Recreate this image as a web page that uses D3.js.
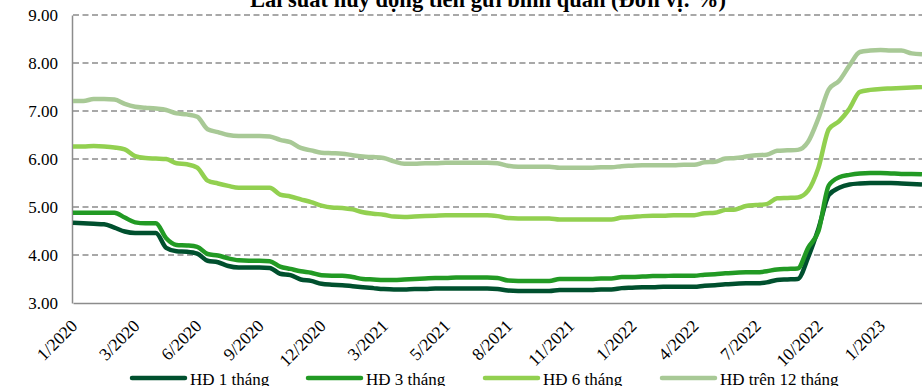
<!DOCTYPE html>
<html>
<head>
<meta charset="utf-8">
<script src="https://cdn.jsdelivr.net/npm/d3@7/dist/d3.min.js"></script>
<style>
  html, body { margin: 0; padding: 0; background: #ffffff; }
  svg { display: block; }
  text { font-family: "Liberation Serif", "Times New Roman", serif; fill: #000; }
</style>
</head>
<body>
<svg id="chart" width="922" height="386"></svg>
<script>
// Weekly average deposit rates, 1/2020 – 2/2023 (%)
const tickLabels = ["1/2020", "3/2020", "6/2020", "9/2020", "12/2020", "3/2021", "5/2021",
  "8/2021", "11/2021", "1/2022", "4/2022", "7/2022", "10/2022", "1/2023"];
const pointsPerLabel = 6;

const rate1m = [
  4.67, 4.66, 4.65, 4.64, 4.57, 4.49, 4.46, 4.46, 4.46, 4.15,
  4.08, 4.07, 4.03, 3.88, 3.85, 3.77, 3.74, 3.74, 3.74, 3.73,
  3.61, 3.58, 3.49, 3.46, 3.40, 3.38, 3.37, 3.35, 3.33, 3.31,
  3.29, 3.28, 3.28, 3.29, 3.29, 3.30, 3.30, 3.30, 3.30, 3.30,
  3.30, 3.29, 3.26, 3.25, 3.25, 3.25, 3.25, 3.27, 3.27, 3.27,
  3.27, 3.28, 3.28, 3.31, 3.32, 3.33, 3.33, 3.34, 3.34, 3.34,
  3.34, 3.36, 3.37, 3.39, 3.40, 3.41, 3.41, 3.43, 3.48, 3.49,
  3.50, 3.95, 4.55, 5.25, 5.40, 5.47, 5.49, 5.50, 5.50, 5.50,
  5.49, 5.48, 5.47
];
const rate3m = [
  4.88, 4.88, 4.88, 4.88, 4.88, 4.78, 4.68, 4.66, 4.66, 4.35,
  4.21, 4.20, 4.17, 4.02, 3.99, 3.93, 3.89, 3.88, 3.88, 3.87,
  3.76, 3.71, 3.66, 3.63, 3.58, 3.57, 3.57, 3.54, 3.50, 3.49,
  3.48, 3.48, 3.49, 3.50, 3.51, 3.52, 3.52, 3.53, 3.53, 3.53,
  3.53, 3.52, 3.47, 3.46, 3.46, 3.46, 3.46, 3.50, 3.50, 3.50,
  3.50, 3.51, 3.51, 3.54, 3.54, 3.55, 3.56, 3.56, 3.57, 3.57,
  3.57, 3.59, 3.60, 3.62, 3.63, 3.64, 3.64, 3.66, 3.70, 3.71,
  3.72, 4.15, 4.50, 5.45, 5.62, 5.67, 5.70, 5.71, 5.71, 5.70,
  5.69, 5.69, 5.68
];
const rate6m = [
  6.26, 6.26, 6.27, 6.26, 6.24, 6.20, 6.06, 6.02, 6.01, 6.00,
  5.91, 5.89, 5.82, 5.55, 5.49, 5.44, 5.40, 5.40, 5.40, 5.40,
  5.26, 5.22, 5.16, 5.10, 5.03, 4.99, 4.98, 4.95, 4.89, 4.86,
  4.84, 4.80, 4.79, 4.80, 4.81, 4.82, 4.83, 4.83, 4.83, 4.83,
  4.83, 4.81, 4.77, 4.76, 4.76, 4.76, 4.76, 4.74, 4.74, 4.74,
  4.74, 4.74, 4.74, 4.78, 4.79, 4.81, 4.82, 4.82, 4.83, 4.83,
  4.83, 4.87, 4.88, 4.94, 4.95, 5.02, 5.04, 5.06, 5.18, 5.19,
  5.20, 5.34, 5.82, 6.62, 6.79, 7.05, 7.40, 7.44, 7.46, 7.47,
  7.48, 7.49, 7.50
];
const rate12m = [
  7.21, 7.21, 7.25, 7.25, 7.24, 7.15, 7.09, 7.07, 7.05, 7.02,
  6.95, 6.93, 6.88, 6.62, 6.56, 6.50, 6.48, 6.48, 6.48, 6.47,
  6.40, 6.35, 6.23, 6.18, 6.13, 6.12, 6.11, 6.08, 6.05, 6.04,
  6.02, 5.95, 5.90, 5.90, 5.91, 5.91, 5.92, 5.92, 5.92, 5.92,
  5.92, 5.91, 5.86, 5.84, 5.84, 5.84, 5.84, 5.82, 5.82, 5.82,
  5.82, 5.83, 5.83, 5.85, 5.86, 5.87, 5.87, 5.87, 5.87, 5.88,
  5.88, 5.93, 5.94, 6.01, 6.02, 6.05, 6.08, 6.09, 6.17, 6.18,
  6.19, 6.36, 6.85, 7.45, 7.63, 7.95, 8.23, 8.26, 8.27, 8.26,
  8.26, 8.20, 8.18
];

const seriesNames = ["HĐ 1 tháng", "HĐ 3 tháng", "HĐ 6 tháng", "HĐ trên 12 tháng"];
const seriesColors = ["#00502e", "#229a24", "#92d050", "#a8c996"];
const yTicks = [3, 4, 5, 6, 7, 8, 9];

const series = [rate1m, rate3m, rate6m, rate12m].map((values, k) => ({
  name: seriesNames[k], color: seriesColors[k], values
}));

const svg = d3.select("#chart");
const plot = { left: 73, right: 922, top: 15, bottom: 303 };

const x = d3.scaleLinear().domain([0, rate1m.length - 1]).range([plot.left, plot.right]);
const y = d3.scaleLinear().domain([3, 9]).range([plot.bottom, plot.top]);

// Title
svg.append("text")
  .attr("x", 488).attr("y", 7)
  .attr("text-anchor", "middle")
  .style("font-size", "22.5px").style("font-weight", "bold")
  .text("Lãi suất huy động tiền gửi bình quân (Đơn vị: %)");

// Dashed horizontal gridlines
svg.append("g")
  .selectAll("line")
  .data(yTicks.filter(v => v > 3))
  .join("line")
  .attr("x1", plot.left).attr("x2", plot.right)
  .attr("y1", d => y(d)).attr("y2", d => y(d))
  .attr("stroke", "#8c8c8c").attr("stroke-width", 1.5)
  .attr("stroke-dasharray", "6,3.5");

// Y axis
const yAxis = svg.append("g")
  .attr("transform", `translate(${plot.left - 1},0)`)
  .call(d3.axisLeft(y).tickValues(yTicks).tickFormat(d3.format(".2f")).tickSize(0).tickPadding(14));
yAxis.select(".domain").attr("stroke", "#8c8c8c").attr("stroke-width", 1.5);
yAxis.selectAll("text").style("font-size", "17px").attr("fill", "#000");

// X axis line and rotated category labels
const xAxis = svg.append("g")
  .attr("transform", `translate(0,${plot.bottom})`)
  .call(d3.axisBottom(x)
    .tickValues(tickLabels.map((_, i) => i * pointsPerLabel))
    .tickFormat((d, i) => tickLabels[i])
    .tickSize(0));
xAxis.select(".domain").attr("stroke", "#8c8c8c").attr("stroke-width", 1.5);
xAxis.selectAll("text")
  .style("font-size", "17.5px").attr("fill", "#000")
  .attr("text-anchor", "end")
  .attr("y", 0).attr("dy", 0)
  .attr("transform", "translate(5,24) rotate(-45)");

// Series lines
const line = d3.line()
  .x((d, i) => x(i))
  .y(d => y(d))
  .curve(d3.curveMonotoneX);

svg.append("g")
  .selectAll("path")
  .data(series)
  .join("path")
  .attr("d", d => line(d.values))
  .attr("fill", "none")
  .attr("stroke", d => d.color)
  .attr("stroke-width", 4.5)
  .attr("stroke-linejoin", "round");

// Legend
const legendX = [132, 308, 485, 662];
const legend = svg.append("g")
  .selectAll("g")
  .data(series)
  .join("g")
  .attr("transform", (d, i) => `translate(${legendX[i]},378)`);
legend.append("line")
  .attr("x1", 0).attr("x2", 53).attr("y1", 0).attr("y2", 0)
  .attr("stroke", d => d.color).attr("stroke-width", 4.5)
  .attr("stroke-linecap", "round");
legend.append("text")
  .attr("x", 58).attr("y", 7)
  .style("font-size", "17px")
  .text(d => d.name);
</script>
</body>
</html>
